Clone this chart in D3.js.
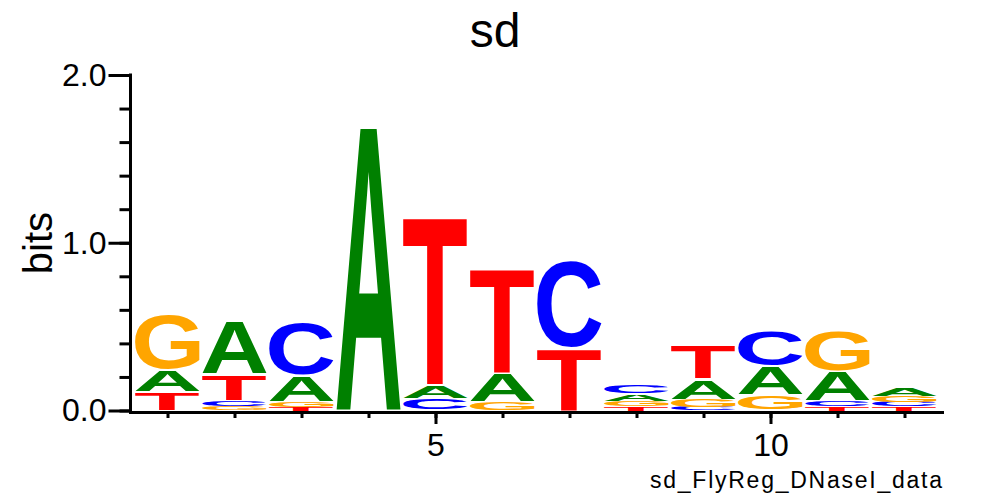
<!DOCTYPE html>
<html>
<head>
<meta charset="utf-8">
<script src="https://cdn.jsdelivr.net/npm/d3@7"></script>
<style>
  html, body { margin: 0; padding: 0; background: #fff; }
  svg { display: block; }
  text { font-family: "Liberation Sans", Arial, Helvetica, sans-serif; }
</style>
</head>
<body>
<svg id="chart" width="992" height="496"></svg>
<script>
// ---- data (bits per letter at each position) ----
const positions = [1, 2, 3, 4, 5, 6, 7, 8, 9, 10, 11, 12];
const valuesA = [0.135, 0.32, 0.16, 1.714, 0.08, 0.17, 0.00, 0.04, 0.12, 0.175, 0.18, 0.045];
const valuesC = [0.00, 0.03, 0.32, 0.00, 0.07, 0.00, 0.52, 0.06, 0.02, 0.215, 0.03, 0.028];
const valuesG = [0.33, 0.025, 0.03, 0.00, 0.00, 0.05, 0.00, 0.03, 0.045, 0.09, 0.25, 0.036];
const valuesT = [0.11, 0.16, 0.02, 0.00, 1.01, 0.63, 0.373, 0.025, 0.205, 0.00, 0.025, 0.025];
const letters = ["A", "C", "G", "T"];
const letterColors = ["#008000", "#0000ff", "#ffa500", "#ff0000"];
const yTicks = [0, 0.2, 0.4, 0.6, 0.8, 1.0, 1.2, 1.4, 1.6, 1.8, 2.0];
const yMajorTicks = [0, 1, 2];
const xMajorTicks = [5, 10];
const titleText = "sd";
const yLabelText = "bits";
const footText = "sd_FlyReg_DNaseI_data";

const seriesByLetter = [valuesA, valuesC, valuesG, valuesT];

const svg = d3.select("#chart");

const x = d3.scaleLinear().domain([0.5, 12.5]).range([134, 938]);
const y = d3.scaleLinear().domain([0, 2]).range([410.5, 75]);
const step = x(2) - x(1);
const letterW = step * 0.965;

// ---- ink metrics for glyphs ----
const glyphFont = "bold 100px 'Liberation Sans', Arial, sans-serif";
const ctx = document.createElement("canvas").getContext("2d");
ctx.font = glyphFont;
const metrics = {};
letters.forEach(l => {
  const m = ctx.measureText(l);
  metrics[l] = {
    left: m.actualBoundingBoxLeft,
    right: m.actualBoundingBoxRight,
    asc: m.actualBoundingBoxAscent,
    desc: m.actualBoundingBoxDescent
  };
});

// ---- stacks ----
const gLogo = svg.append("g");
positions.forEach((p, i) => {
  const stack = letters.map((l, k) => ({ letter: l, color: letterColors[k], v: seriesByLetter[k][i] }))
    .filter(d => d.v > 0)
    .sort((a, b) => a.v - b.v);
  let cum = 0;
  stack.forEach(d => {
    const yBottom = y(cum);
    const yTop = y(cum + d.v);
    cum += d.v;
    let h = yBottom - yTop;
    let top = yTop;
    if (h > 10) { top += 1; h -= 2; }
    const m = metrics[d.letter];
    const inkW = m.left + m.right;
    const inkH = m.asc + m.desc;
    const x0 = x(p) - letterW / 2;
    gLogo.append("text")
      .attr("x", 0).attr("y", 0)
      .style("font", glyphFont)
      .attr("fill", d.color)
      .attr("transform",
        `translate(${x0},${top}) scale(${letterW / inkW},${h / inkH}) translate(${m.left},${m.asc})`)
      .text(d.letter);
  });
});

// ---- y axis ----
const yMinor = d3.axisLeft(y).tickValues(yTicks).tickSize(11).tickFormat("");
const yMajor = d3.axisLeft(y).tickValues(yMajorTicks).tickSize(22).tickPadding(2)
  .tickFormat(d3.format(".1f"));
const gy1 = svg.append("g").attr("transform", "translate(130.5,0)").call(yMinor);
const gy2 = svg.append("g").attr("transform", "translate(130.5,0)").call(yMajor);
[gy1, gy2].forEach(g => {
  g.select(".domain").remove();
  g.selectAll("line").attr("stroke", "#000").attr("stroke-width", 3);
  g.selectAll("text").style("font-size", "32px").attr("fill", "#000")
    .style("font-family", "'Liberation Sans', Arial, sans-serif");
});
svg.append("line").attr("x1", 130.5).attr("x2", 130.5).attr("y1", y(2) - 1.5).attr("y2", 414)
  .attr("stroke", "#000").attr("stroke-width", 3);

// ---- x axis ----
const xMinor = d3.axisBottom(x).tickValues(positions).tickSize(6).tickFormat("");
const xMajor = d3.axisBottom(x).tickValues(xMajorTicks).tickSize(12).tickPadding(9)
  .tickFormat(d3.format("d"));
const gx1 = svg.append("g").attr("transform", "translate(0,412)").call(xMinor);
const gx2 = svg.append("g").attr("transform", "translate(0,412)").call(xMajor);
[gx1, gx2].forEach(g => {
  g.select(".domain").remove();
  g.selectAll("line").attr("stroke", "#000").attr("stroke-width", 3);
  g.selectAll("text").style("font-size", "32px").attr("fill", "#000")
    .style("font-family", "'Liberation Sans', Arial, sans-serif");
});
svg.append("line").attr("x1", 129).attr("x2", 944).attr("y1", 412.5).attr("y2", 412.5)
  .attr("stroke", "#000").attr("stroke-width", 3);

// ---- labels ----
svg.append("text").attr("x", 495).attr("y", 47).attr("text-anchor", "middle")
  .style("font-size", "48px").attr("fill", "#000").text(titleText);
svg.append("text").attr("transform", "translate(52,243) rotate(-90)").attr("text-anchor", "middle")
  .style("font-size", "40px").attr("fill", "#000").text(yLabelText);
svg.append("text").attr("x", 650).attr("y", 488)
  .attr("textLength", 292).attr("lengthAdjust", "spacing")
  .style("font-size", "23px").attr("fill", "#000").text(footText);
</script>
</body>
</html>
